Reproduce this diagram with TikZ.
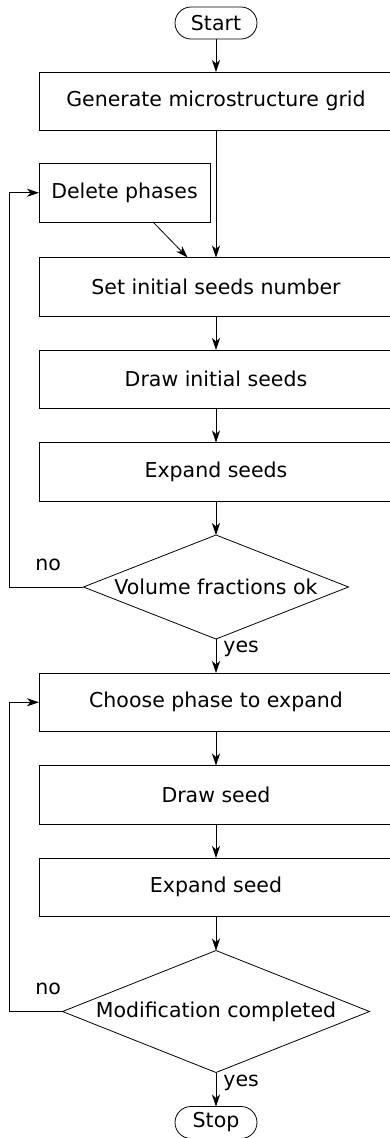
\documentclass[tikz,border=0pt]{standalone}
\usepackage{fontspec}
\setmainfont{DejaVu Sans}
\usetikzlibrary{positioning,shapes.geometric,arrows.meta}
\tikzset{
  process/.style={rectangle,draw=black,line width=0.8pt,minimum width=354pt,minimum height=58.5pt,inner sep=0pt,outer sep=0pt},
  smallprocess/.style={process,minimum width=171pt},
  decision/.style={diamond,draw=black,line width=0.8pt,inner sep=0pt,outer sep=0pt},
  terminal/.style={rectangle,rounded corners=16pt,draw=black,line width=0.8pt,minimum width=82pt,minimum height=32pt,inner sep=0pt,outer sep=0pt},
  flow/.style={line width=0.8pt,draw=black,-{Stealth[length=12pt,width=8pt,inset=3.5pt]}},
  answer/.style={inner sep=2pt}
}

\begin{document}
\begin{tikzpicture}[node distance=34pt,font=\fontsize{20.5}{24}\selectfont]
      \useasboundingbox (-216pt,23pt) rectangle (174pt,-1115pt);
      \node[terminal] (start) {Start};
      \node[process,below=33pt of start] (grid) {Generate microstructure grid};
      \node[smallprocess,below=33pt of grid.south west,anchor=north west] (del) {Delete phases};
      \node[process,below=127pt of grid] (seeds) {Set initial seeds number};
      \node[process,below=of seeds] (drawinit) {Draw initial seeds};
      \node[process,below=of drawinit] (expand) {Expand seeds};
      \node[decision,aspect=2.55,minimum width=265pt,minimum height=104pt,below=of expand] (vol) {Volume fractions ok};
      \node[process,below=of vol] (choose) {Choose phase to expand};
      \node[process,below=of choose] (drawseed) {Draw seed};
      \node[process,below=of drawseed] (expseed) {Expand seed};
      \node[decision,aspect=2.52,minimum width=307pt,minimum height=122pt,below=of expseed] (modif) {Modification completed};
      \node[terminal,below=of modif] (stop) {Stop};
      \coordinate[left=30pt of del.west] (back1);
      \coordinate[left=30pt of choose.west] (back2);
      \draw[flow] (start) -- (grid);
      \draw[flow] (grid) -- (seeds);
      \draw[flow] (del) -- (seeds);
      \draw[flow] (seeds) -- (drawinit);
      \draw[flow] (drawinit) -- (expand);
      \draw[flow] (expand) -- (vol);
      \draw[flow] (vol) -- node[answer,pos=0,anchor=north west,xshift=5pt] {yes} (choose);
      \draw[flow] (vol.west) -- (vol.west -| back1) node[answer,above right=14pt and 24pt] {no} -- (back1) -- (del.west);
      \draw[flow] (choose) -- (drawseed);
      \draw[flow] (drawseed) -- (expseed);
      \draw[flow] (expseed) -- (modif);
      \draw[flow] (modif) -- node[answer,pos=0,anchor=north west,xshift=5pt] {yes} (stop);
      \draw[flow] (modif.west) -- (modif.west -| back2) node[answer,above right=14pt and 24pt] {no} -- (back2) -- (choose.west);
    \end{tikzpicture}
\end{document}
